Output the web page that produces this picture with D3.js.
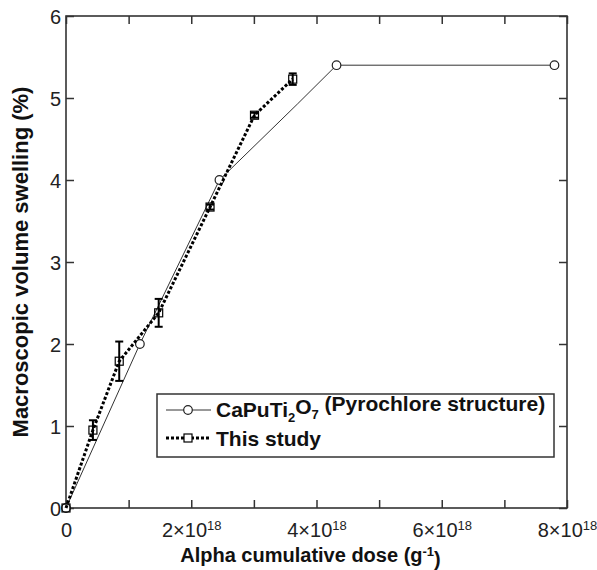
<!DOCTYPE html>
<html>
<head>
<meta charset="utf-8">
<script src="https://cdn.jsdelivr.net/npm/d3@7"></script>
<style>
  body { margin: 0; background: #fff; }
  svg { display: block; font-family: "Liberation Sans", Arial, sans-serif; }
</style>
</head>
<body>
<script>
// reference series: CaPuTi2O7 (pyrochlore)
const doseRef = [0, 1.18e18, 2.45e18, 3.7e18, 4.32e18, 7.8e18];
const swellRef = [0, 2.0, 4.0, 4.93, 5.4, 5.4];
const markRef = [true, true, true, false, true, true];

// this study, with error bars
const doseStudy = [0, 0.43e18, 0.85e18, 1.48e18, 2.30e18, 3.01e18, 3.62e18];
const swellStudy = [0, 0.95, 1.79, 2.38, 3.67, 4.79, 5.23];
const errStudy = [0, 0.12, 0.24, 0.17, 0.03, 0.03, 0.07];

const xTicks = [0, 1e18, 2e18, 3e18, 4e18, 5e18, 6e18, 7e18, 8e18];
const yTicks = [0, 1, 2, 3, 4, 5, 6];

const W = 597, H = 570;
const margin = { top: 16, right: 30, bottom: 62, left: 66 };

const svg = d3.select("body").append("svg")
    .attr("width", W)
    .attr("height", H);

const x = d3.scaleLinear().domain([0, 8e18]).range([margin.left, W - margin.right]);
const y = d3.scaleLinear().domain([0, 6]).range([H - margin.bottom, margin.top]);

const axisColor = "#333";

// ticks (inward, all four sides)
const fmtX = d => {
    const m = d / 1e18;
    if (m % 2 !== 0) return "";
    return m === 0 ? "0" : m + "";
};

const gxb = svg.append("g")
    .attr("transform", "translate(0," + y(0) + ")")
    .call(d3.axisBottom(x).tickValues(xTicks).tickSize(-8).tickPadding(15).tickFormat(fmtX));
const gxt = svg.append("g")
    .attr("transform", "translate(0," + y(6) + ")")
    .call(d3.axisTop(x).tickValues(xTicks).tickSize(-8).tickFormat(""));
const gyl = svg.append("g")
    .attr("transform", "translate(" + x(0) + ",0)")
    .call(d3.axisLeft(y).tickValues(yTicks).tickSize(-8).tickPadding(5).tickFormat(d3.format("d")));
const gyr = svg.append("g")
    .attr("transform", "translate(" + x(8e18) + ",0)")
    .call(d3.axisRight(y).tickValues(yTicks).tickSize(-8).tickFormat(""));

[gxb, gxt, gyl, gyr].forEach(g => {
    g.select(".domain").remove();
    g.selectAll(".tick line").attr("stroke", axisColor).attr("stroke-width", 1.5);
    g.selectAll("text").attr("fill", "#222").attr("font-size", "20px")
        .attr("font-family", "Liberation Sans, Arial, sans-serif");
});

// x tick labels as a×10^18
gxb.selectAll(".tick text").each(function () {
    const t = d3.select(this);
    const s = t.text();
    if (s === "" || s === "0") return;
    t.text(null);
    t.append("tspan").text(s + "×10");
    t.append("tspan").attr("dy", "-0.55em").attr("font-size", "13px").text("18");
});
gyl.selectAll(".tick text").attr("dy", "0.36em");

// frame
svg.append("rect")
    .attr("x", x(0)).attr("y", y(6))
    .attr("width", x(8e18) - x(0)).attr("height", y(0) - y(6))
    .attr("fill", "none").attr("stroke", axisColor).attr("stroke-width", 1.6);

// reference curve
const refData = doseRef.map((d, i) => ({ x: d, y: swellRef[i], m: markRef[i] }));
const line = d3.line().x(d => x(d.x)).y(d => y(d.y));

svg.append("path")
    .datum(refData)
    .attr("fill", "none")
    .attr("stroke", "#333")
    .attr("stroke-width", 1)
    .attr("d", line);

svg.selectAll("circle.ref")
    .data(refData.filter(d => d.m))
    .enter().append("circle")
    .attr("class", "ref")
    .attr("cx", d => x(d.x))
    .attr("cy", d => y(d.y))
    .attr("r", 4.3)
    .attr("fill", "#fff")
    .attr("stroke", "#222")
    .attr("stroke-width", 1.2);

// this study
const studyData = doseStudy.map((d, i) => ({ x: d, y: swellStudy[i], e: errStudy[i] }));

svg.append("path")
    .datum(studyData)
    .attr("fill", "none")
    .attr("stroke", "#000")
    .attr("stroke-width", 3)
    .attr("stroke-dasharray", "3,2")
    .attr("d", line);

const eb = svg.selectAll("g.err")
    .data(studyData.filter(d => d.e > 0))
    .enter().append("g")
    .attr("class", "err")
    .attr("stroke", "#000")
    .attr("stroke-width", 2);
eb.append("line")
    .attr("x1", d => x(d.x)).attr("x2", d => x(d.x))
    .attr("y1", d => y(d.y - d.e)).attr("y2", d => y(d.y + d.e));
eb.append("line")
    .attr("x1", d => x(d.x) - 4).attr("x2", d => x(d.x) + 4)
    .attr("y1", d => y(d.y + d.e)).attr("y2", d => y(d.y + d.e));
eb.append("line")
    .attr("x1", d => x(d.x) - 4).attr("x2", d => x(d.x) + 4)
    .attr("y1", d => y(d.y - d.e)).attr("y2", d => y(d.y - d.e));

svg.selectAll("rect.study")
    .data(studyData)
    .enter().append("rect")
    .attr("class", "study")
    .attr("x", d => x(d.x) - 4)
    .attr("y", d => y(d.y) - 4)
    .attr("width", 8).attr("height", 8)
    .attr("fill", "none")
    .attr("stroke", "#000")
    .attr("stroke-width", 1.2);

// legend
const lg = svg.append("g");
lg.append("rect")
    .attr("x", 157).attr("y", 394)
    .attr("width", 397).attr("height", 63)
    .attr("fill", "#fff").attr("stroke", axisColor).attr("stroke-width", 1.5);

lg.append("line").attr("x1", 166).attr("x2", 211).attr("y1", 410).attr("y2", 410)
    .attr("stroke", "#333").attr("stroke-width", 1);
lg.append("circle").attr("cx", 188).attr("cy", 410).attr("r", 4.3)
    .attr("fill", "#fff").attr("stroke", "#222").attr("stroke-width", 1.2);

lg.append("line").attr("x1", 166).attr("x2", 211).attr("y1", 438).attr("y2", 438)
    .attr("stroke", "#000").attr("stroke-width", 3).attr("stroke-dasharray", "3,2");
lg.append("rect").attr("x", 184).attr("y", 434).attr("width", 8).attr("height", 8)
    .attr("fill", "#fff").attr("stroke", "#000").attr("stroke-width", 1.2);

const t1 = lg.append("text")
    .attr("x", 216).attr("y", 417)
    .attr("font-size", "21px").attr("font-weight", "bold").attr("fill", "#111");
t1.append("tspan").text("CaPuTi");
t1.append("tspan").attr("dy", "0.35em").attr("font-size", "13px").text("2");
t1.append("tspan").attr("dy", "-0.35em").text("O");
t1.append("tspan").attr("dy", "0.35em").attr("font-size", "13px").text("7");
t1.append("tspan").attr("dy", "-0.35em").text(" (Pyrochlore structure)");

lg.append("text")
    .attr("x", 216).attr("y", 446)
    .attr("font-size", "21px").attr("font-weight", "bold").attr("fill", "#111")
    .text("This study");

// axis titles
const xt = svg.append("text")
    .attr("x", (x(0) + x(8e18)) / 2 - 6).attr("y", 562)
    .attr("text-anchor", "middle")
    .attr("font-size", "20px").attr("font-weight", "bold").attr("fill", "#111");
xt.append("tspan").text("Alpha cumulative dose (g");
xt.append("tspan").attr("dy", "-0.5em").attr("font-size", "13px").text("-1");
xt.append("tspan").attr("dy", "0.5em").text(")");

svg.append("text")
    .attr("transform", "translate(28," + (y(0) + y(6)) / 2 + ")rotate(-90)")
    .attr("text-anchor", "middle")
    .attr("font-size", "22px").attr("font-weight", "bold").attr("fill", "#111")
    .text("Macroscopic volume swelling (%)");
</script>
</body>
</html>
